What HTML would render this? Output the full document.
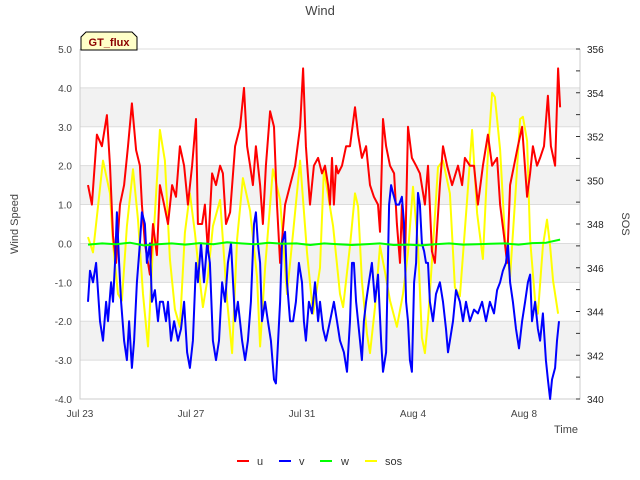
<!DOCTYPE html>
<html><head><meta charset="utf-8"><style>
html,body{margin:0;padding:0;background:#fff;}
svg{display:block;font-family:"Liberation Sans",sans-serif;}
</style></head><body>
<svg id="chart" width="640" height="480" viewBox="0 0 640 480">
<g id="bands"></g><g id="grid"></g><g id="axes"></g><g id="series"></g>
<text x="320" y="15" text-anchor="middle" font-size="13" fill="#444">Wind</text>
<text transform="translate(18,224) rotate(-90)" text-anchor="middle" font-size="11" fill="#444">Wind Speed</text>
<text transform="translate(622,224) rotate(90)" text-anchor="middle" font-size="11" fill="#444">SOS</text>
<text x="566" y="433" text-anchor="middle" font-size="11" fill="#444">Time</text>
<g>
<path d="M81,50 L81,37 L86,32 L132,32 L137,37 L137,50 Z" fill="#ffffc8" stroke="#000" stroke-width="1"/>
<text x="109" y="46" text-anchor="middle" font-size="11" font-weight="bold" fill="#8b0000">GT_flux</text>
</g>
<g id="legend">
<g><line x1="237" y1="461" x2="249" y2="461" stroke="#ff0000" stroke-width="2"/><text x="257" y="465" font-size="11" fill="#333">u</text></g>
<g><line x1="279" y1="461" x2="291" y2="461" stroke="#0000ff" stroke-width="2"/><text x="299" y="465" font-size="11" fill="#333">v</text></g>
<g><line x1="320" y1="461" x2="332" y2="461" stroke="#00ff00" stroke-width="2"/><text x="341" y="465" font-size="11" fill="#333">w</text></g>
<g><line x1="365" y1="461" x2="377" y2="461" stroke="#ffff00" stroke-width="2"/><text x="385" y="465" font-size="11" fill="#333">sos</text></g>
</g>
</svg>
<script>
const xTickLabels=["Jul 23","Jul 27","Jul 31","Aug 4","Aug 8"];
const xTickDays=[0,4,8,12,16];
const yTicks=[-4,-3,-2,-1,0,1,2,3,4,5];
const y2Ticks=[340,342,344,346,348,350,352,354,356];
const uDays=[0.29,0.43,0.61,0.79,0.97,1.08,1.19,1.30,1.44,1.59,1.73,1.87,2.02,2.16,2.23,2.34,2.45,2.52,2.63,2.77,2.88,3.03,3.17,3.32,3.46,3.60,3.75,3.89,4.04,4.18,4.25,4.40,4.50,4.61,4.76,4.90,5.05,5.15,5.26,5.41,5.59,5.77,5.91,6.02,6.13,6.23,6.34,6.49,6.59,6.70,6.85,6.99,7.10,7.21,7.39,7.57,7.75,7.93,8.04,8.14,8.29,8.43,8.58,8.72,8.83,8.94,9.01,9.08,9.15,9.23,9.30,9.44,9.59,9.73,9.91,10.02,10.16,10.31,10.45,10.59,10.74,10.81,10.92,11.03,11.17,11.32,11.42,11.53,11.60,11.71,11.82,11.96,12.11,12.25,12.43,12.54,12.68,12.79,12.97,13.08,13.23,13.41,13.62,13.77,13.87,14.05,14.20,14.34,14.52,14.70,14.85,15.03,15.14,15.28,15.39,15.50,15.64,15.78,15.93,16.11,16.22,16.32,16.47,16.58,16.72,16.86,16.97,17.12,17.23,17.30];
const uVals=[1.5,1.0,2.8,2.5,3.3,2.0,0.2,-0.5,1.0,1.5,2.5,3.6,2.4,2.0,1.0,0,-0.5,-0.8,0.5,-0.3,1.5,1.0,0.5,1.5,1.2,2.5,2.0,1.0,2.0,3.2,0.5,0.5,1.0,-0.2,1.8,1.5,2.0,1.8,0.5,0.8,2.5,3.0,4.0,2.5,2.0,1.5,2.5,1.5,0.5,2.0,3.4,3.0,1.0,-0.5,1.0,1.5,2.0,3.0,4.5,2.5,1.0,2.0,2.2,1.8,2.0,1.5,1.0,2.2,1.0,2.0,1.8,2.0,2.5,2.5,3.5,2.8,2.2,2.5,1.5,1.2,1.0,0.3,3.2,2.5,2.0,1.8,0.5,-0.5,1.0,-0.5,3.0,2.2,2.0,1.8,1.0,2.0,-0.2,-0.5,1.5,2.5,2.0,1.5,2.0,1.5,2.2,2.0,2.0,1.0,2.0,2.8,2.0,2.2,1.0,0.2,-0.5,1.5,2.0,2.5,3.0,1.2,1.8,2.5,2.0,2.2,2.5,3.8,2.5,2.0,4.5,3.5];
const vDays=[0.29,0.36,0.47,0.58,0.72,0.83,0.94,1.01,1.12,1.19,1.26,1.33,1.41,1.48,1.59,1.69,1.77,1.87,1.95,2.05,2.16,2.23,2.34,2.41,2.52,2.59,2.70,2.81,2.88,2.99,3.10,3.17,3.28,3.39,3.53,3.64,3.75,3.86,3.96,4.07,4.18,4.25,4.36,4.47,4.58,4.68,4.79,4.90,5.01,5.12,5.23,5.33,5.44,5.59,5.69,5.84,5.95,6.05,6.16,6.27,6.34,6.41,6.49,6.56,6.67,6.77,6.88,6.99,7.06,7.14,7.21,7.28,7.39,7.46,7.57,7.68,7.78,7.89,8.00,8.07,8.14,8.25,8.36,8.47,8.58,8.65,8.76,8.86,9.01,9.15,9.26,9.37,9.51,9.62,9.73,9.80,9.87,9.95,10.09,10.16,10.23,10.31,10.41,10.52,10.63,10.74,10.85,10.92,11.03,11.14,11.21,11.28,11.39,11.50,11.60,11.68,11.75,11.82,11.89,11.96,12.04,12.11,12.18,12.25,12.32,12.40,12.47,12.54,12.61,12.72,12.83,12.97,13.08,13.19,13.26,13.33,13.44,13.55,13.69,13.80,13.91,14.05,14.20,14.34,14.49,14.63,14.77,14.92,15.03,15.14,15.24,15.35,15.42,15.50,15.60,15.71,15.82,15.93,16.04,16.14,16.22,16.29,16.40,16.50,16.58,16.68,16.79,16.86,16.94,17.01,17.12,17.19,17.26];
const vVals=[-1.5,-0.7,-1.0,-0.5,-2.0,-2.5,-1.5,-2.0,-1.0,-1.5,-0.5,0.8,-0.5,-1.5,-2.5,-3.0,-2.0,-3.2,-2.5,-1.0,0.0,0.8,0.5,-0.5,0.0,-1.5,-1.2,-2.0,-1.5,-1.5,-2.0,-1.5,-2.5,-2.0,-2.5,-2.2,-1.5,-2.8,-3.2,-2.5,-0.5,-1.0,0.0,-1.0,0.0,-0.5,-2.5,-3.0,-2.5,-1.0,-1.5,-0.5,0.0,-2.0,-1.5,-2.5,-3.0,-2.5,-1.5,0.5,0.8,0.0,-0.5,-2.0,-1.5,-2.0,-2.5,-3.5,-3.6,-2.5,-1.5,0.0,0.3,-1.0,-2.0,-2.0,-1.5,-0.5,-1.0,-2.0,-2.5,-1.5,-1.8,-1.0,-2.0,-1.5,-2.2,-2.5,-2.0,-1.5,-2.0,-2.5,-2.8,-3.3,-2.0,-0.5,-0.5,-1.5,-2.5,-3.0,-2.0,-1.5,-1.0,-0.5,-1.5,-0.8,-2.5,-3.3,-2.8,1.0,1.5,1.3,1.0,1.0,1.2,0.5,-1.5,-2.0,-3.0,-3.3,-1.0,-0.5,1.3,1.0,0.0,-0.2,-0.5,-0.5,-1.5,-2.0,-1.3,-1.0,-1.5,-2.2,-2.8,-2.5,-2.0,-1.2,-1.5,-2.0,-1.5,-2.0,-1.7,-1.8,-1.5,-2.0,-1.5,-1.8,-1.2,-1.0,-0.7,-0.5,0.0,-1.0,-1.5,-2.2,-2.7,-2.0,-1.5,-1.0,-0.8,-2.0,-1.5,-2.2,-2.5,-1.8,-3.0,-3.5,-4.0,-3.5,-3.2,-2.5,-2.0];
const wDays=[0.29,0.8,1.3,1.8,2.3,2.8,3.3,3.8,4.3,4.8,5.3,5.8,6.3,6.8,7.3,7.8,8.3,8.8,9.3,9.8,10.3,10.8,11.3,11.8,12.3,12.8,13.3,13.8,14.3,14.8,15.3,15.8,16.3,16.8,17.3];
const wVals=[-0.03,0.0,-0.02,0.02,-0.05,-0.02,0.0,-0.03,0.01,-0.02,0.03,0.0,-0.02,0.02,-0.01,0.0,-0.04,0.0,-0.02,-0.04,-0.02,0.0,-0.04,-0.03,-0.05,-0.02,0.0,-0.03,-0.02,-0.01,0.0,-0.03,0.01,0.02,0.1];
const sosDays=[0.29,0.47,0.83,1.08,1.19,1.37,1.51,1.69,1.91,2.09,2.27,2.45,2.63,2.88,3.06,3.24,3.42,3.60,3.78,3.96,4.14,4.32,4.43,4.61,4.79,5.05,5.30,5.48,5.66,5.87,6.13,6.38,6.49,6.67,6.95,7.21,7.46,7.68,7.93,8.18,8.40,8.65,8.79,9.12,9.37,9.48,9.73,9.91,10.02,10.16,10.34,10.45,10.63,10.81,10.99,11.17,11.42,11.64,11.82,12.00,12.18,12.32,12.43,12.54,12.72,12.90,13.08,13.33,13.51,13.69,13.95,14.13,14.31,14.52,14.70,14.85,14.95,15.14,15.32,15.50,15.68,15.86,15.96,16.11,16.22,16.40,16.50,16.68,16.83,16.94,17.05,17.23];
const sosVals=[347.4,346.7,350.9,349.4,347.1,344.8,344.5,347.9,350.5,348.2,344.8,342.4,347.0,352.3,350.9,346.4,344.1,343.3,347.6,349.4,347.6,345.4,344.2,345.6,347.9,349.1,344.5,342.1,347.3,350.1,348.6,345.6,342.4,346.0,350.5,349.1,344.8,347.6,350.9,346.7,343.9,346.0,350.5,347.9,344.8,344.2,347.0,349.4,348.8,345.4,343.0,342.1,344.2,347.0,345.8,344.5,343.3,344.8,346.7,349.7,347.0,342.8,342.1,343.6,347.0,350.6,350.9,349.4,345.1,344.7,349.1,352.3,348.5,346.4,351.2,354.0,353.8,351.4,347.3,345.6,349.1,352.8,352.9,351.8,347.3,344.5,343.9,347.0,348.2,347.0,345.4,343.9];

const NS="http://www.w3.org/2000/svg";
const L=80,R=580,T=49,B=399;
const dayPx=27.75;
function xS(d){return L+d*dayPx;}
function yS(v){return B-(v-(-4))*(B-T)/9;}
function y2S(v){return B-(v-340)*(B-T)/16;}
function mk(tag,attrs,parent){const e=document.createElementNS(NS,tag);for(const k in attrs)e.setAttribute(k,attrs[k]);parent.appendChild(e);return e;}
const bands=document.getElementById('bands'),grid=document.getElementById('grid'),axes=document.getElementById('axes'),series=document.getElementById('series');
[[3,4],[1,2],[-1,0],[-3,-2]].forEach(b=>{
  const r=mk('rect',{x:L,y:yS(b[1]),width:R-L,height:yS(b[0])-yS(b[1]),fill:'#f2f2f2'},bands);
  
  
});
yTicks.forEach(v=>{
  const y=yS(v);
  const g=mk('line',{x1:L,x2:R,y1:y,y2:y,stroke:'#dcdcdc','stroke-width':1},grid);
  
  
  const t=mk('text',{x:72,y:y+4,'text-anchor':'end','font-size':10,fill:'#444'},axes);
  t.textContent=v.toFixed(1);
  
  
});
const frame=mk('path',{d:`M${L},${T} L${L},${B} L${R},${B} L${R},${T}`,fill:'none',stroke:'#ccc','stroke-width':1},axes);


for(let v=340;v<=356;v++){
  const y=y2S(v);
  const tk=mk('line',{x1:R-4,x2:R,y1:y,y2:y,stroke:'#333','stroke-width':1},axes);
  
  
}
y2Ticks.forEach(v=>{
  const t=mk('text',{x:587,y:y2S(v)+4,'font-size':10,fill:'#222'},axes);
  t.textContent=v;
  
  
});
xTickDays.forEach((d,i)=>{
  const t=mk('text',{x:xS(d),y:417,'text-anchor':'middle','font-size':10,fill:'#444'},axes);
  t.textContent=xTickLabels[i];
  
  
});
function line(days,vals,ys,color,name){
  const d=days.map((x,i)=>(i?'L':'M')+xS(x).toFixed(1)+','+ys(vals[i]).toFixed(1)).join(' ');
  const p=mk('path',{d:d,fill:'none',stroke:color,'stroke-width':2,'stroke-linejoin':'round'},series);
  
  
}
line(sosDays,sosVals,y2S,'#ffff00','sos-line');
line(uDays,uVals,yS,'#ff0000','u-line');
line(vDays,vVals,yS,'#0000ff','v-line');
line(wDays,wVals,yS,'#00ff00','w-line');
</script>
</body></html>
